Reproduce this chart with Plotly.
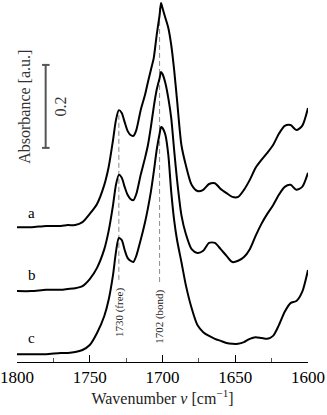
import plotly.graph_objects as go

# wavenumber grid (cm-1)
wavenumber = [1800, 1790, 1780, 1770, 1765, 1760, 1755, 1750, 1745, 1740, 1737, 1734,
              1732, 1730, 1728, 1726, 1724, 1722, 1720, 1718, 1715, 1712, 1710, 1708,
              1706, 1704, 1702, 1701, 1700, 1698, 1696, 1694, 1692, 1690, 1687, 1684,
              1680, 1676, 1672, 1668, 1664, 1660, 1656, 1652, 1648, 1644, 1640, 1636,
              1632, 1628, 1624, 1620, 1616, 1612, 1608, 1604, 1600]

# stacked absorbance as drawn (a on top, c at the bottom)
spec_a = [0.308, 0.308, 0.311, 0.311, 0.313, 0.313, 0.320, 0.340, 0.364, 0.410, 0.453, 0.518,
          0.566, 0.590, 0.583, 0.561, 0.540, 0.530, 0.528, 0.542, 0.590, 0.627, 0.658, 0.687,
          0.716, 0.771, 0.819, 0.848, 0.836, 0.812, 0.788, 0.747, 0.687, 0.614, 0.506, 0.458,
          0.410, 0.395, 0.398, 0.412, 0.414, 0.400, 0.390, 0.381, 0.381, 0.398, 0.422, 0.451,
          0.470, 0.487, 0.506, 0.533, 0.552, 0.554, 0.542, 0.552, 0.595]

spec_b = [0.154, 0.154, 0.157, 0.157, 0.159, 0.161, 0.166, 0.183, 0.210, 0.255, 0.299, 0.361,
          0.410, 0.434, 0.427, 0.405, 0.386, 0.376, 0.373, 0.388, 0.434, 0.475, 0.506, 0.549,
          0.598, 0.639, 0.667, 0.682, 0.677, 0.655, 0.619, 0.571, 0.494, 0.422, 0.337, 0.292,
          0.255, 0.246, 0.251, 0.270, 0.270, 0.255, 0.239, 0.224, 0.227, 0.236, 0.255, 0.287,
          0.316, 0.340, 0.361, 0.386, 0.405, 0.410, 0.398, 0.405, 0.439]

spec_c = [0.002, 0.002, 0.002, 0.005, 0.005, 0.007, 0.012, 0.024, 0.053, 0.094, 0.133, 0.193,
          0.248, 0.282, 0.277, 0.253, 0.234, 0.227, 0.224, 0.239, 0.277, 0.320, 0.354, 0.393,
          0.441, 0.494, 0.533, 0.549, 0.547, 0.530, 0.482, 0.393, 0.325, 0.277, 0.224, 0.169,
          0.113, 0.072, 0.055, 0.046, 0.039, 0.034, 0.029, 0.027, 0.027, 0.031, 0.039, 0.043,
          0.041, 0.039, 0.046, 0.072, 0.104, 0.125, 0.130, 0.152, 0.205]

curve_labels = ['a', 'b', 'c']
band_positions = [1730, 1702]
band_labels = ['1730 (free)', '1702 (bond)']
scale_value = 0.2

serif = 'Liberation Serif'

fig = go.Figure()

# dashed guides at the two carbonyl bands (drawn under the spectra)
guide_top = [0.578, 0.836]
guide_bottom = [0.181, 0.176]
for pos, top, bot in zip(band_positions, guide_top, guide_bottom):
    fig.add_shape(type='line', x0=pos, x1=pos, y0=bot, y1=top, layer='below',
                  line=dict(color='#8a8a8a', width=1, dash='5px,3px'))

for spec in (spec_a, spec_b, spec_c):
    fig.add_trace(go.Scatter(
        x=wavenumber, y=spec, mode='lines',
        line=dict(color='black', width=2, shape='spline', smoothing=0.7),
        showlegend=False, hoverinfo='skip',
    ))

# band labels, rotated
label_y = [0.103, 0.091]
for pos, txt, ly in zip(band_positions, band_labels, label_y):
    fig.add_annotation(x=pos, y=ly, text=txt, showarrow=False, textangle=-90,
                       font=dict(family=serif, size=11, color='#222'))

# curve letters
for txt, ly in zip(curve_labels, [0.343, 0.192, 0.041]):
    fig.add_annotation(x=1790, y=ly, text=txt, showarrow=False,
                       font=dict(family=serif, size=15, color='black'))

# scale bar
bar_x = 1780.3
bar_lo = 0.499
fig.add_shape(type='line', x0=bar_x, x1=bar_x, y0=bar_lo, y1=bar_lo + scale_value,
              line=dict(color='#555', width=2))
for yy in (bar_lo, bar_lo + scale_value):
    fig.add_shape(type='line', x0=1782.8, x1=1777.6, y0=yy, y1=yy,
                  line=dict(color='#555', width=2))
fig.add_annotation(x=1770.4, y=bar_lo + scale_value / 2, text=str(scale_value),
                   showarrow=False, textangle=-90,
                   font=dict(family=serif, size=16, color='#333'))
fig.add_annotation(x=1794.5, y=0.598, text='Absorbance [a.u.]', showarrow=False,
                   textangle=-90, font=dict(family=serif, size=16, color='#333'))

fig.update_layout(
    width=327, height=415,
    margin=dict(l=17, r=19, t=0, b=53),
    plot_bgcolor='white', paper_bgcolor='white',
    font=dict(family=serif, color='black'),
    xaxis=dict(
        range=[1800, 1600], showgrid=False, zeroline=False,
        showline=True, linecolor='black', linewidth=1,
        tickmode='linear', tick0=1600, dtick=50,
        ticks='inside', ticklen=7, tickcolor='black', tickwidth=1,
        tickfont=dict(family=serif, size=17, color='black'),
        minor=dict(dtick=25, tick0=1600, ticks='inside', ticklen=4,
                   tickcolor='#555', tickwidth=1),
        title=dict(text='Wavenumber <i>ν</i> [cm<sup>−1</sup>]',
                   font=dict(family=serif, size=16, color='#222'), standoff=6),
    ),
    yaxis=dict(range=[-0.0169, 0.8554], visible=False),
)

# the page body keeps the browser's default 8px margin otherwise
fig.write_html("out.html", config={'displayModeBar': False},
               post_script="document.body.style.margin='0';")
